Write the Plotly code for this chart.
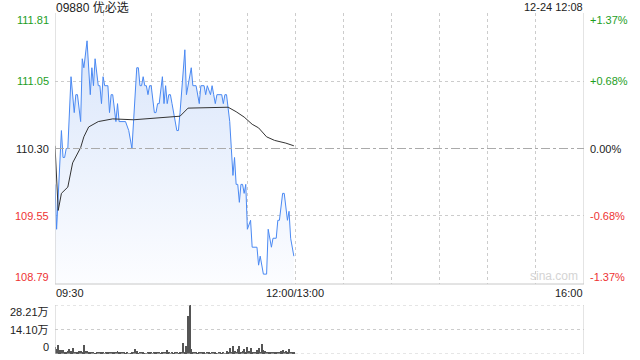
import plotly.graph_objects as go

# ---------------- data ----------------
prev_close = 110.30
y_min, y_max = 108.79, 111.81
vol_max = 282100

# minutes after 09:30
price_min = [0,1,4,5,6,7,8,10,12,13,14,16,17,18,20,22,23,24,25,27,28,29,30,31,33,34,35,36,38,39,
             40,44,46,48,51,52,53,54,55,56,57,58,59,60,62,63,64,65,67,68,69,70,71,72,73,76,77,78,81,82,
             85,86,88,90,91,93,94,95,97,98,99,100,101,104,105,106,107,109,110,111,112,113,114,115,116,117,118,119,120,122,
             123,126,127,128,130,132,133,135,136,138,139,140,142,143,145,146,147,149]
price_val = [109.9,109.4,110.5,110.2,110.2,110.3,110.3,111.1,110.7,110.9,
             110.9,110.6,111.3,111.2,111.5,110.9,111.2,111.0,111.3,111.0,
             111.0,110.8,111.1,111.0,111.0,110.7,110.9,110.9,110.6,110.8,
             110.6,110.6,110.5,110.3,111.2,111.2,111.0,111.0,111.1,111.0,
             111.0,110.9,111.0,111.0,110.7,110.7,110.8,110.8,111.1,110.8,
             111.0,110.8,110.9,110.9,110.8,110.5,110.5,110.7,111.4,110.9,
             111.2,111.0,111.0,110.8,111.0,111.0,110.9,111.0,110.9,111.0,
             110.9,110.8,110.9,110.9,110.8,110.9,110.9,110.6,110.3,110.0,
             110.2,109.9,109.9,109.7,109.9,109.9,109.8,109.9,109.4,109.5,
             109.2,109.2,109.0,109.1,108.9,108.9,109.4,109.2,109.3,109.3,
             109.5,109.5,109.8,109.8,109.5,109.6,109.3,109.1]

avg_min = [0,2,4,8,11,14,16,18,21,27,36,49,61,78,83,99,108,113,118,123,127,132,137,144,149]
avg_val = [110.33,109.61,109.80,109.87,110.14,110.25,110.31,110.43,110.54,110.60,110.63,110.62,
           110.64,110.66,110.75,110.76,110.76,110.71,110.65,110.57,110.53,110.43,110.39,110.36,110.33]

volume = [42200,28800,51800,23000,23000,23000,7700,13400,19200,28800,17300,34500,13400,7700,
          7700,19200,17300,13400,51800,17300,17300,13400,9600,7700,7700,3800,7700,5800,
          11500,7700,11500,3800,7700,11500,7700,9600,7700,9600,7700,17300,9600,7700,
          7700,5800,3800,5800,3800,3800,9600,7700,26900,15400,3800,7700,7700,5800,
          3800,3800,7700,9600,7700,3800,7700,9600,7700,5800,3800,7700,9600,7700,
          23000,7700,3800,9600,3800,13400,7700,3800,7700,5800,61400,13400,46100,218800,
          282100,
          26900,7700,7700,5800,3800,7700,5800,9600,5800,3800,7700,9600,3800,7700,11500,5800,
          3800,7700,5800,3800,7700,3800,17300,9600,32600,13400,46100,19200,13400,26900,46100,9600,
          19200,26900,13400,42200,19200,36500,13400,9600,13400,23000,32600,13400,57600,23000,19200,11500,
          9600,13400,9600,13400,7700,9600,7700,9600,17300,23000,13400,19200,7700,26900,13400,7700,
          9600]
vol_min = list(range(len(volume)))

left_labels = ["111.81", "111.05", "110.30", "109.55", "108.79"]
left_vals = [111.81, 111.05, 110.30, 109.55, 108.79]
right_labels = ["+1.37%", "+0.68%", "0.00%", "-0.68%", "-1.37%"]
vol_labels = ["28.21万", "14.10万", "0"]
vol_label_vals = [282100, 141050, 0]
x_labels = ["09:30", "12:00/13:00", "16:00"]
x_label_vals = [0, 150, 330]
title_text = "09880 优必选"
time_text = "12-24 12:08"

# ---------------- style ----------------
FONT = "Liberation Sans, Arial, Noto Sans CJK SC, sans-serif"
GREEN = "#1e9e1e"
RED = "#ee3333"
DARK = "#222222"
GRID = "#cccccc"
BORDER = "#c8c8c8"
W, H = 640, 360
main_dom = [1 - 284 / H, 1 - 13 / H]
vol_dom = [1 - 354 / H, 1 - 305 / H]
x_dom = [55 / W, 584 / W]

fig = go.Figure()
fig.add_trace(go.Scatter(
    x=price_min, y=price_val, mode="lines",
    line=dict(color="#4a89f3", width=1),
    fill="tozeroy",
    fillgradient=dict(type="vertical", start=y_min, stop=y_max,
                      colorscale=[[0, "rgba(252,253,255,1)"], [1, "rgba(214,227,250,1)"]]),
    xaxis="x", yaxis="y", hoverinfo="skip"))
fig.add_trace(go.Scatter(
    x=avg_min, y=avg_val, mode="lines",
    line=dict(color="#333333", width=1),
    xaxis="x", yaxis="y", hoverinfo="skip"))
fig.add_trace(go.Bar(
    x=vol_min, y=volume, width=0.6,
    marker=dict(color="#555555", line=dict(width=0)),
    xaxis="x2", yaxis="y2", hoverinfo="skip"))

fig.update_layout(
    width=W, height=H, margin=dict(l=0, r=0, t=0, b=0),
    paper_bgcolor="white", plot_bgcolor="white",
    showlegend=False, bargap=0,
    font=dict(family=FONT, size=11, color=DARK),
    xaxis=dict(domain=x_dom, range=[0, 330], anchor="y",
               tickvals=list(range(30, 330, 30)), showticklabels=False,
               showgrid=True, gridcolor=GRID, griddash="dot", gridwidth=1,
               zeroline=False, showline=False, ticks=""),
    yaxis=dict(domain=main_dom, range=[y_min, y_max], anchor="x",
               tickvals=[111.05, 109.55], showticklabels=False,
               showgrid=True, gridcolor=GRID, griddash="dot", gridwidth=1,
               zeroline=False, showline=False, ticks=""),
    xaxis2=dict(domain=x_dom, range=[0, 330], anchor="y2",
                showticklabels=False, showgrid=False, zeroline=False, ticks=""),
    yaxis2=dict(domain=vol_dom, range=[0, vol_max], anchor="x2",
                tickvals=[vol_max / 2], showticklabels=False,
                showgrid=True, gridcolor=GRID, griddash="dot", gridwidth=1,
                zeroline=False, ticks=""),
)

shapes = []
# main panel borders
for xv in (0, 330):
    shapes.append(dict(type="line", xref="x", yref="y domain", x0=xv, x1=xv, y0=0, y1=1,
                       line=dict(color=BORDER, width=1)))
shapes.append(dict(type="line", xref="x domain", yref="y domain", x0=0, x1=1, y0=0, y1=0,
                   line=dict(color=BORDER, width=1)))
# previous close line
shapes.append(dict(type="line", xref="x domain", yref="y", x0=0, x1=1, y0=prev_close, y1=prev_close,
                   line=dict(color="#aaaaaa", width=1, dash="dashdot")))
# volume panel borders
for xv in (0, 330):
    shapes.append(dict(type="line", xref="x2", yref="y2 domain", x0=xv, x1=xv, y0=0, y1=1,
                       line=dict(color=BORDER, width=1)))
for yv in (0, vol_max):
    shapes.append(dict(type="line", xref="x2 domain", yref="y2", x0=0, x1=1, y0=yv, y1=yv,
                       line=dict(color=GRID, width=1, dash="dot")))
fig.update_layout(shapes=shapes)

ann = []
colors = [GREEN, GREEN, DARK, RED, RED]
anchors = ["top", "middle", "middle", "middle", "bottom"]
for lab, v, c, a in zip(left_labels, left_vals, colors, anchors):
    ann.append(dict(text=lab, x=50 / W, xref="paper", xanchor="right", y=v, yref="y", yanchor=a,
                    showarrow=False, font=dict(color=c, size=11, family=FONT), borderpad=0))
for lab, v, c, a in zip(right_labels, left_vals, colors, anchors):
    ann.append(dict(text=lab, x=589 / W, xref="paper", xanchor="left", y=v, yref="y", yanchor=a,
                    showarrow=False, font=dict(color=c, size=11, family=FONT), borderpad=0))
for lab, v, a in zip(vol_labels, vol_label_vals, ["top", "middle", "bottom"]):
    ann.append(dict(text=lab, x=50 / W, xref="paper", xanchor="right", y=v, yref="y2", yanchor=a,
                    showarrow=False, font=dict(color=DARK, size=11, family=FONT), borderpad=0))
for lab, v, xa in zip(x_labels, x_label_vals, ["left", "center", "right"]):
    ann.append(dict(text=lab, x=v, xref="x", xanchor=xa, y=1 - 293 / H, yref="paper", yanchor="middle",
                    showarrow=False, font=dict(color=DARK, size=11, family=FONT), borderpad=0))
ann.append(dict(text=title_text, x=55 / W, xref="paper", xanchor="left", y=1, yref="paper", yanchor="top",
                showarrow=False, font=dict(color=DARK, size=12, family=FONT), borderpad=0))
ann.append(dict(text=time_text, x=584 / W, xref="paper", xanchor="right", y=1, yref="paper", yanchor="top",
                showarrow=False, font=dict(color=DARK, size=11, family=FONT), borderpad=0))
ann.append(dict(text="sina.com", x=579 / W, xref="paper", xanchor="right", y=1 - 284 / H, yref="paper",
                yanchor="bottom", showarrow=False, font=dict(color="#d4d4d4", size=12, family=FONT), borderpad=0))
fig.update_layout(annotations=ann)

fig.write_html("out.html")
